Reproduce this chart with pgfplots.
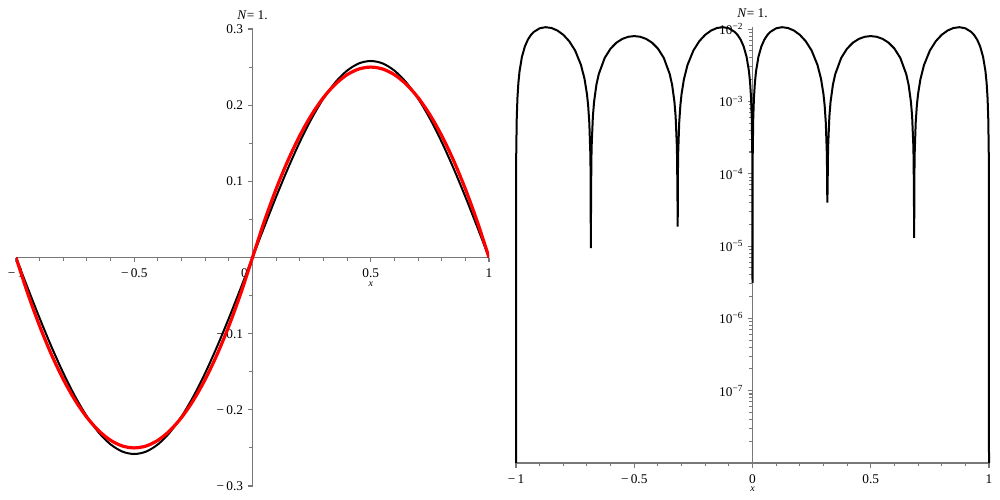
\documentclass[border=0pt]{standalone}
\usepackage{fontspec}
\setmainfont{Liberation Serif}
\usepackage{pgfplots}
\pgfplotsset{compat=1.18}
\usepackage{pgfplotstable}
\definecolor{axgray}{RGB}{120,120,120}

\pgfplotstableread{
x black red
-1 0 0
-0.95 -0.040362 -0.0475
-0.9 -0.079730 -0.09
-0.85 -0.117135 -0.1275
-0.8 -0.151656 -0.16
-0.75 -0.182443 -0.1875
-0.7 -0.208737 -0.21
-0.65 -0.229891 -0.2275
-0.6 -0.245384 -0.24
-0.55 -0.254835 -0.2475
-0.5 -0.258012 -0.25
-0.45 -0.254835 -0.2475
-0.4 -0.245384 -0.24
-0.35 -0.229891 -0.2275
-0.3 -0.208737 -0.21
-0.25 -0.182443 -0.1875
-0.2 -0.151656 -0.16
-0.15 -0.117135 -0.1275
-0.1 -0.079730 -0.09
-0.05 -0.040362 -0.0475
0 0 0
0.05 0.040362 0.0475
0.1 0.079730 0.09
0.15 0.117135 0.1275
0.2 0.151656 0.16
0.25 0.182443 0.1875
0.3 0.208737 0.21
0.35 0.229891 0.2275
0.4 0.245384 0.24
0.45 0.254835 0.2475
0.5 0.258012 0.25
0.55 0.254835 0.2475
0.6 0.245384 0.24
0.65 0.229891 0.2275
0.7 0.208737 0.21
0.75 0.182443 0.1875
0.8 0.151656 0.16
0.85 0.117135 0.1275
0.9 0.079730 0.09
0.95 0.040362 0.0475
1 0 0
}\curves

\pgfplotstableread{
x err
-1 1e-8
-0.999 1.884e-4
-0.997 5.59e-4
-0.994 1.101e-3
-0.99 1.796e-3
-0.985 2.621e-3
-0.975 4.131e-3
-0.9625 5.768e-3
-0.95 7.138e-3
-0.9375 8.259e-3
-0.925 9.144e-3
-0.9 1.027e-2
-0.875 1.0638e-2
-0.85 1.0365e-2
-0.825 9.564e-3
-0.8 8.344e-3
-0.775 6.810e-3
-0.75 5.058e-3
-0.725 3.181e-3
-0.71 2.031e-3
-0.7 1.263e-3
-0.695 8.85e-4
-0.69 5.03e-4
-0.686 2.03e-4
-0.685 1.28e-4
-0.6835 9.4e-6
-0.6825 5.9e-5
-0.681 1.71e-4
-0.68 2.47e-4
-0.675 6.16e-4
-0.67 9.82e-4
-0.66 1.705e-3
-0.65 2.391e-3
-0.625 3.997e-3
-0.6 5.384e-3
-0.575 6.509e-3
-0.55 7.335e-3
-0.525 7.841e-3
-0.5 8.012e-3
-0.475 7.841e-3
-0.45 7.335e-3
-0.425 6.509e-3
-0.4 5.384e-3
-0.375 3.997e-3
-0.35 2.391e-3
-0.34 1.705e-3
-0.33 9.82e-4
-0.325 6.16e-4
-0.32 2.47e-4
-0.319 1.71e-4
-0.3175 5.9e-5
-0.3163 1.86e-5
-0.315 1.28e-4
-0.314 2.03e-4
-0.31 5.03e-4
-0.305 8.85e-4
-0.3 1.263e-3
-0.29 2.031e-3
-0.275 3.181e-3
-0.25 5.058e-3
-0.225 6.810e-3
-0.2 8.344e-3
-0.175 9.564e-3
-0.15 1.0365e-2
-0.125 1.0638e-2
-0.1 1.027e-2
-0.075 9.144e-3
-0.0625 8.259e-3
-0.05 7.138e-3
-0.0375 5.768e-3
-0.025 4.131e-3
-0.015 2.621e-3
-0.01 1.796e-3
-0.006 1.101e-3
-0.003 5.59e-4
-0.001 1.884e-4
0 3.1e-6
0.001 1.884e-4
0.003 5.59e-4
0.006 1.101e-3
0.01 1.796e-3
0.015 2.621e-3
0.025 4.131e-3
0.0375 5.768e-3
0.05 7.138e-3
0.0625 8.259e-3
0.075 9.144e-3
0.1 1.027e-2
0.125 1.0638e-2
0.15 1.0365e-2
0.175 9.564e-3
0.2 8.344e-3
0.225 6.810e-3
0.25 5.058e-3
0.275 3.181e-3
0.29 2.031e-3
0.3 1.263e-3
0.305 8.85e-4
0.31 5.03e-4
0.314 2.03e-4
0.315 1.28e-4
0.3163 4.0e-5
0.3175 5.9e-5
0.319 1.71e-4
0.32 2.47e-4
0.325 6.16e-4
0.33 9.82e-4
0.34 1.705e-3
0.35 2.391e-3
0.375 3.997e-3
0.4 5.384e-3
0.425 6.509e-3
0.45 7.335e-3
0.475 7.841e-3
0.5 8.012e-3
0.525 7.841e-3
0.55 7.335e-3
0.575 6.509e-3
0.6 5.384e-3
0.625 3.997e-3
0.65 2.391e-3
0.66 1.705e-3
0.67 9.82e-4
0.675 6.16e-4
0.68 2.47e-4
0.681 1.71e-4
0.6825 5.9e-5
0.6835 1.3e-5
0.685 1.28e-4
0.686 2.03e-4
0.69 5.03e-4
0.695 8.85e-4
0.7 1.263e-3
0.71 2.031e-3
0.725 3.181e-3
0.75 5.058e-3
0.775 6.810e-3
0.8 8.344e-3
0.825 9.564e-3
0.85 1.0365e-2
0.875 1.0638e-2
0.9 1.027e-2
0.925 9.144e-3
0.9375 8.259e-3
0.95 7.138e-3
0.9625 5.768e-3
0.975 4.131e-3
0.985 2.621e-3
0.99 1.796e-3
0.994 1.101e-3
0.997 5.59e-4
0.999 1.884e-4
1 1e-8
}\errtab

\pgfplotsset{
  mapleaxis/.style={
    scale only axis,
    anchor=south west,
    xmin=-1, xmax=1,
    every tick/.style={draw=axgray, line width=0.8pt},
    tick align=outside,
    major tick length=3.5pt, minor tick length=2.5pt,
    hide obscured x ticks=false,
    hide obscured y ticks=false,
    ticklabel style={font=\fontsize{10}{11}\selectfont},
    xticklabel style={yshift=-1.5pt},
    xtick={-1,-0.5,0,0.5,1},
    minor xtick={-0.9,-0.8,-0.7,-0.6,-0.4,-0.3,-0.2,-0.1,0.1,0.2,0.3,0.4,0.6,0.7,0.8,0.9},
    title={\textit{N}= 1.},
    title style={font=\fontsize{10}{11}\selectfont, at={(axis description cs:0.5,1)}, anchor=center, yshift=4.5pt},
    xlabel={\textit{x}},
  },
  noarrows/.style={
    axis line style={draw=axgray, line width=0.8pt, -},
    every inner x axis line/.append style={-},
    every inner y axis line/.append style={-},
    every outer x axis line/.append style={-},
    every outer y axis line/.append style={-},
  }
}

\begin{document}
\begin{tikzpicture}
\begin{axis}[mapleaxis,
  at={(12pt,10.5pt)},
  width=354.75pt, height=342.75pt,
  ymin=-0.3, ymax=0.3,
  axis lines*=middle,
  noarrows,
  xticklabels={−\,1,−\,0.5,\makebox[0pt][r]{0\hspace{3.5pt}},0.5,1},
  ytick={-0.3,-0.2,-0.1,0.1,0.2,0.3},
  yticklabels={−\,0.3,−\,0.2,−\,0.1,0.1,0.2,0.3},
  minor ytick={-0.25,-0.15,-0.05,0.05,0.15,0.25},
  xlabel style={at={(axis description cs:0.75,0.5)}, anchor=center, yshift=-20pt, font=\fontsize{7.5}{8}\selectfont},
]
\addplot[black, line width=1.5pt, smooth] table[x=x, y=black] {\curves};
\addplot[red, line width=2.4pt, smooth] table[x=x, y=red] {\curves};
\end{axis}

\begin{axis}[mapleaxis,
  at={(387pt,27.75pt)},
  width=354.75pt, height=327pt,
  ymode=log, ymin=1e-8, ymax=0.0107,
  axis x line*=bottom, axis y line*=middle,
  noarrows,
  clip=false,
  xticklabels={−\,1,−\,0.5,0,0.5,1},
  ytick={1e-7,1e-6,1e-5,1e-4,1e-3,1e-2},
  yticklabels={10\textsuperscript{−7},10\textsuperscript{−6},10\textsuperscript{−5},10\textsuperscript{−4},10\textsuperscript{−3},10\textsuperscript{−2}},
  minor ytick={2e-8,3e-8,4e-8,5e-8,6e-8,7e-8,8e-8,9e-8,
    2e-7,3e-7,4e-7,5e-7,6e-7,7e-7,8e-7,9e-7,
    2e-6,3e-6,4e-6,5e-6,6e-6,7e-6,8e-6,9e-6,
    2e-5,3e-5,4e-5,5e-5,6e-5,7e-5,8e-5,9e-5,
    2e-4,3e-4,4e-4,5e-4,6e-4,7e-4,8e-4,9e-4,
    2e-3,3e-3,4e-3,5e-3,6e-3,7e-3,8e-3,9e-3},
  xlabel style={at={(axis description cs:0.5,0)}, anchor=center, yshift=-20pt, font=\fontsize{7.5}{8}\selectfont},
]
\addplot[black, line width=1.5pt] table[x=x, y=err] {\errtab};
\end{axis}
\pgfresetboundingbox
\path[use as bounding box] (0,0) rectangle (750pt,375pt);
\end{tikzpicture}
\end{document}
